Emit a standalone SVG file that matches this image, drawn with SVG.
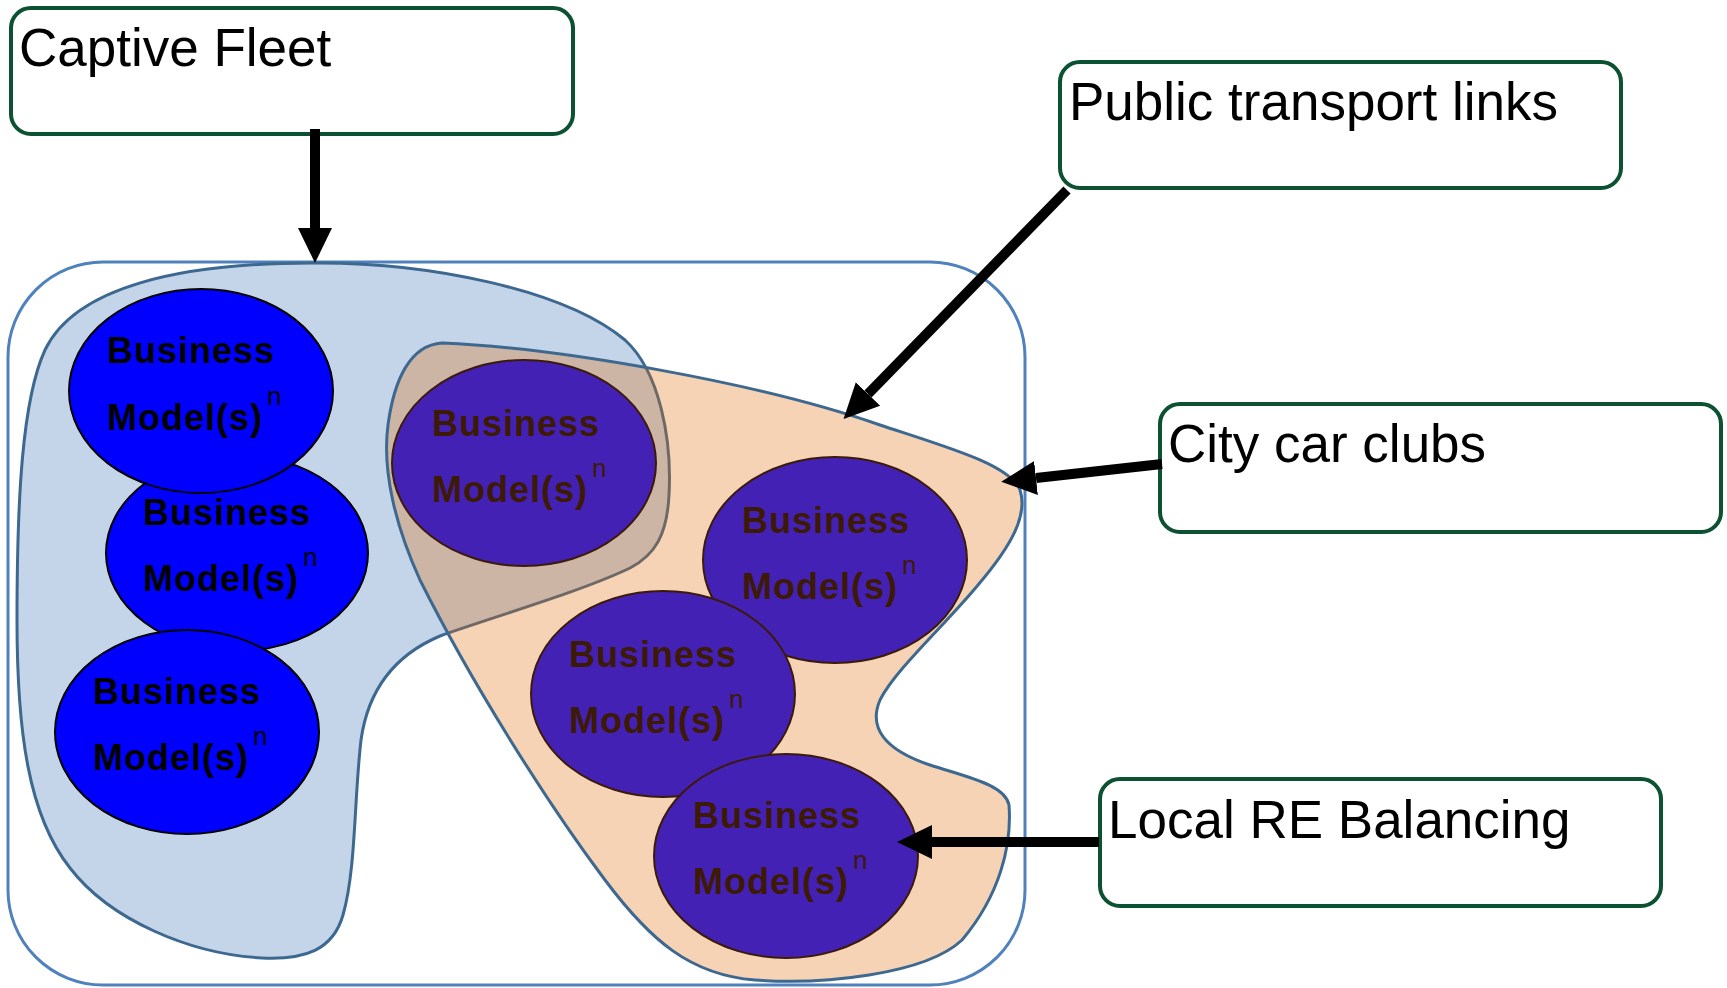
<svg xmlns="http://www.w3.org/2000/svg" width="1727" height="988" viewBox="0 0 1727 988">
<style>
.lbl{fill:#fff;stroke:#0b5132;stroke-width:4}
.lt{font-family:"Liberation Sans",Arial,sans-serif;font-size:53px;fill:#000}
.bm{font-family:"Liberation Sans",Arial,sans-serif;font-size:36px;font-weight:bold;letter-spacing:1px}
.sup{font-size:26px;font-weight:normal;letter-spacing:0}
.cb{fill:#0000ff;stroke:#000;stroke-width:2}
.cp{fill:#4421b5;stroke:#3c1a08;stroke-width:2}
.tb{fill:#000}
.tp{fill:#3d1a04}
.reg{stroke:#3d6890;stroke-width:3}
.arr{stroke:#000;stroke-width:10;fill:none}
</style>
<defs>
<marker id="ah" markerUnits="userSpaceOnUse" markerWidth="36" markerHeight="36" refX="0" refY="18" orient="auto" viewBox="0 0 36 36">
<path d="M0,1 L35,18 L0,35 Z" fill="#000"/>
</marker>
</defs>
<rect width="1727" height="988" fill="#fff"/>
<g id="area">
<rect x="8" y="262" width="1017" height="723" rx="95" ry="95" fill="#fff" stroke="#4f81bd" stroke-width="3"/>
</g>
<g id="captive-region">
<path class="reg" fill="#c4d5e9" d="M312 263 C430 262,565 290,625 340 C660 372,672 440,669 495 C667 535,655 555,630 568 C580 592,490 618,440 636 C395 655,368 690,361 740 C354 800,356 870,343 915 C333 950,305 960,262 958 C190 954,110 920,70 868 C28 815,17 730,17 620 C17 500,22 400,45 350 C75 287,180 263,312 263 Z"/>
</g>
<g id="city-region">
<path class="reg" fill="rgb(225,110,10)" fill-opacity="0.3" d="M442 343 C560 348,760 383,880 425 C950 448,1010 465,1020 490 C1028 515,1012 545,978 585 C945 625,895 670,880 700 C868 728,885 750,930 765 C970 778,1005 785,1009 805 C1012 845,1000 895,962 940 C925 975,820 985,755 980 C690 975,650 940,605 880 C545 800,470 680,420 580 C395 525,382 470,388 425 C394 380,410 345,442 343 Z"/>
</g>
<g id="bm-blue-2">
<ellipse class="cb" cx="237" cy="553" rx="131" ry="98"/>
<text class="bm tb" x="143" y="525">Business</text>
<text class="bm tb" x="143" y="591">Model(s)<tspan class="sup" dx="4" dy="-25">n</tspan></text>
</g>
<g id="bm-blue-1">
<ellipse class="cb" cx="201" cy="391" rx="132" ry="102"/>
<text class="bm tb" x="107" y="363">Business</text>
<text class="bm tb" x="107" y="430">Model(s)<tspan class="sup" dx="4" dy="-25">n</tspan></text>
</g>
<g id="bm-blue-3">
<ellipse class="cb" cx="187" cy="732" rx="132" ry="102"/>
<text class="bm tb" x="93" y="704">Business</text>
<text class="bm tb" x="93" y="770">Model(s)<tspan class="sup" dx="4" dy="-25">n</tspan></text>
</g>
<g id="bm-purple-1">
<ellipse class="cp" cx="524" cy="463" rx="132" ry="103"/>
<text class="bm tp" x="432" y="436">Business</text>
<text class="bm tp" x="432" y="502">Model(s)<tspan class="sup" dx="4" dy="-25">n</tspan></text>
</g>
<g id="bm-purple-2">
<ellipse class="cp" cx="835" cy="560" rx="132" ry="103"/>
<text class="bm tp" x="742" y="533">Business</text>
<text class="bm tp" x="742" y="599">Model(s)<tspan class="sup" dx="4" dy="-25">n</tspan></text>
</g>
<g id="bm-purple-3">
<ellipse class="cp" cx="663" cy="694" rx="132" ry="103"/>
<text class="bm tp" x="569" y="667">Business</text>
<text class="bm tp" x="569" y="733">Model(s)<tspan class="sup" dx="4" dy="-25">n</tspan></text>
</g>
<g id="bm-purple-4">
<ellipse class="cp" cx="786" cy="856" rx="132" ry="102"/>
<text class="bm tp" x="693" y="828">Business</text>
<text class="bm tp" x="693" y="894">Model(s)<tspan class="sup" dx="4" dy="-25">n</tspan></text>
</g>
<g id="label-captive-fleet">
<rect class="lbl" x="11" y="8" width="562" height="126" rx="20" ry="20"/>
<text class="lt" x="19" y="66">Captive Fleet</text>
</g>
<g id="label-public-transport">
<rect class="lbl" x="1060" y="62" width="561" height="126" rx="20" ry="20"/>
<text class="lt" x="1069" y="120">Public transport links</text>
</g>
<g id="label-city-car-clubs">
<rect class="lbl" x="1160" y="404" width="561" height="128" rx="20" ry="20"/>
<text class="lt" x="1168" y="462">City car clubs</text>
</g>
<g id="label-local-re">
<rect class="lbl" x="1100" y="779" width="561" height="127" rx="20" ry="20"/>
<text class="lt" x="1108" y="838">Local RE Balancing</text>
</g>
<g id="connectors">
<path class="arr" d="M315 129 L315 228" marker-end="url(#ah)"/>
<path class="arr" d="M1067 190 L868 394" marker-end="url(#ah)"/>
<path class="arr" d="M1162 464 L1036 478" marker-end="url(#ah)"/>
<path class="arr" d="M1099 842 L932 842" marker-end="url(#ah)"/>
</g>
</svg>
